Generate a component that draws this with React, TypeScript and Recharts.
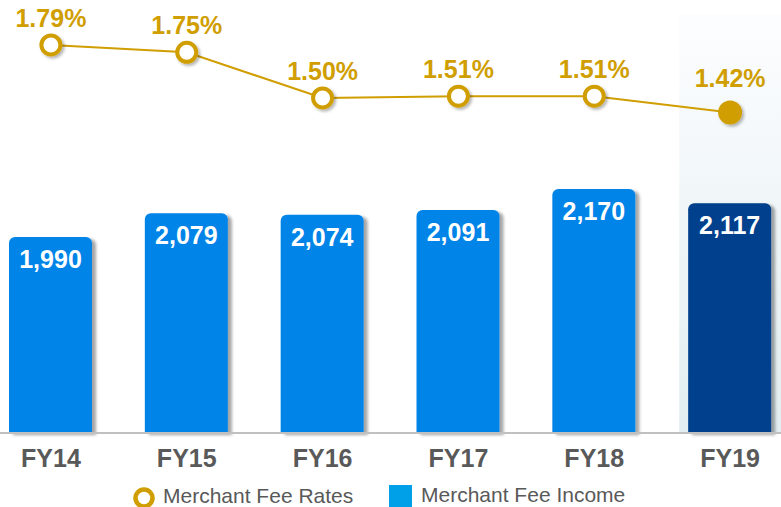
import {
  ComposedChart,
  Bar,
  Line,
  XAxis,
  YAxis,
  LabelList,
  Rectangle,
} from "recharts";

const categories = ["FY14", "FY15", "FY16", "FY17", "FY18", "FY19"];
const feeIncome = [1990, 2079, 2074, 2091, 2170, 2117];
const feeRates = [1.79, 1.75, 1.5, 1.51, 1.51, 1.42];

const GOLD = "#D09E00";
const BLUE = "#0084E8";
const NAVY = "#003F8C";
const TEXT = "#595959";
const FONT = "'Liberation Sans', Arial, sans-serif";

const data = categories.map((name, i) => ({
  name,
  income: feeIncome[i],
  rate: feeRates[i],
}));

const lastIdx = categories.length - 1;

// bar with rounded top; last year gets the highlight column behind it
function IncomeBar(props: any) {
  const { x, y, width, height, index } = props;
  const isLast = index === lastIdx;
  const base = y + height;
  return (
    <g>
      {isLast && (
        <rect
          x={x - 9}
          y={base - 418}
          width={width + 20}
          height={418}
          fill="url(#hiliteGrad)"
        />
      )}
      <Rectangle
        x={x}
        y={y}
        width={width}
        height={height}
        radius={[6, 6, 0, 0]}
        fill={isLast ? NAVY : BLUE}
        filter="url(#barShadow)"
      />
    </g>
  );
}

function RateDot(props: any) {
  const { cx, cy, index } = props;
  if (cx == null || cy == null) return null;
  if (index === lastIdx) {
    return <circle cx={cx} cy={cy} r={12} fill={GOLD} filter="url(#dotShadow)" />;
  }
  return (
    <circle
      cx={cx}
      cy={cy}
      r={9.5}
      fill="#fff"
      stroke={GOLD}
      strokeWidth={4}
      filter="url(#dotShadow)"
    />
  );
}

function RateLabel(props: any) {
  const { x, y, value, index } = props;
  const lift = index === lastIdx ? 26 : 18;
  return (
    <text
      x={x}
      y={y - lift}
      textAnchor="middle"
      fill={GOLD}
      fontSize={25}
      fontWeight="bold"
      fontFamily={FONT}
    >
      {`${Number(value).toFixed(2)}%`}
    </text>
  );
}

function IncomeLabel(props: any) {
  const { x, y, width, value } = props;
  return (
    <text
      x={x + width / 2}
      y={y + 31}
      textAnchor="middle"
      fill="#fff"
      fontSize={25}
      fontWeight="bold"
      fontFamily={FONT}
    >
      {Number(value).toLocaleString("en-US")}
    </text>
  );
}

export default function App() {
  return (
    <div
      style={{
        position: "absolute",
        left: 0,
        top: 0,
        width: 781,
        height: 507,
        overflow: "hidden",
        background: "#fff",
        fontFamily: FONT,
      }}
    >
      <div style={{ marginLeft: -17 }}>
        <ComposedChart
          width={815}
          height={507}
          data={data}
          margin={{ top: 0, right: 0, left: 0, bottom: 44 }}
        >
          <defs>
            <linearGradient id="hiliteGrad" x1="0" y1="0" x2="0" y2="1">
              <stop offset="0%" stopColor="#FCFDFE" />
              <stop offset="100%" stopColor="#E2EEF1" />
            </linearGradient>
            <filter id="barShadow" x="-20%" y="-20%" width="150%" height="150%">
              <feDropShadow dx="4" dy="2" stdDeviation="1.5" floodColor="#000" floodOpacity="0.35" />
            </filter>
            <filter id="dotShadow" x="-50%" y="-50%" width="200%" height="200%">
              <feDropShadow dx="2" dy="2" stdDeviation="1.5" floodColor="#000" floodOpacity="0.3" />
            </filter>
          </defs>
          <XAxis
            dataKey="name"
            height={30}
            tickLine={false}
            tickMargin={10}
            axisLine={{ stroke: "#C0C0C0", strokeWidth: 2 }}
            tick={{ fill: TEXT, fontSize: 25, fontWeight: "bold", fontFamily: FONT }}
          />
          <YAxis yAxisId="bar" hide domain={[1255, 2879]} />
          <YAxis yAxisId="rate" hide orientation="right" domain={[-0.333, 2.036]} />
          <Bar
            yAxisId="bar"
            dataKey="income"
            barSize={83}
            shape={IncomeBar}
            isAnimationActive={false}
          >
            <LabelList dataKey="income" content={IncomeLabel} />
          </Bar>
          <Line
            yAxisId="rate"
            dataKey="rate"
            type="linear"
            stroke={GOLD}
            strokeWidth={2}
            dot={RateDot}
            activeDot={false}
            isAnimationActive={false}
          >
            <LabelList dataKey="rate" content={RateLabel} />
          </Line>
        </ComposedChart>
      </div>

      {/* legend */}
      <svg
        style={{ position: "absolute", left: 132, top: 486 }}
        width={24}
        height={24}
      >
        <circle cx={12} cy={12} r={8.5} fill="#fff" stroke={GOLD} strokeWidth={4.5} />
      </svg>
      <div
        style={{
          position: "absolute",
          left: 163,
          top: 487,
          fontSize: 21,
          lineHeight: "18px",
          color: TEXT,
          whiteSpace: "nowrap",
        }}
      >
        Merchant Fee Rates
      </div>
      <div
        style={{
          position: "absolute",
          left: 389,
          top: 485,
          width: 23,
          height: 24,
          background: "#00A0E9",
        }}
      />
      <div
        style={{
          position: "absolute",
          left: 421,
          top: 486,
          fontSize: 21,
          lineHeight: "18px",
          color: TEXT,
          whiteSpace: "nowrap",
        }}
      >
        Merchant Fee Income
      </div>
    </div>
  );
}
